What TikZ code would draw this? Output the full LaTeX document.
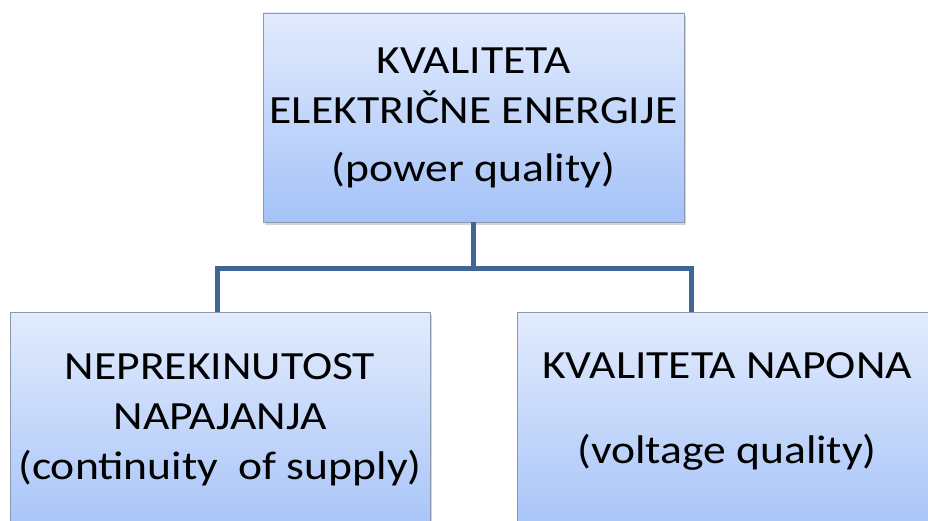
\documentclass[tikz,border=0pt]{standalone}
\usepackage{fontspec}
\setmainfont{Carlito}[FakeStretch=1.14]
\usetikzlibrary{shadows,positioning}

\definecolor{boxtop}{RGB}{226,235,253}
\definecolor{boxbot}{RGB}{164,194,248}
\definecolor{boxline}{RGB}{140,152,172}
\definecolor{linkblue}{RGB}{64,102,150}

\tikzset{
  qbox/.style={draw=boxline, line width=0.8pt, top color=boxtop, bottom color=boxbot,
    align=center, inner sep=0pt, font=\fontsize{40}{50}\selectfont,
    drop shadow={opacity=0.35, shadow xshift=1.5pt, shadow yshift=-3pt}},
  link/.style={draw=linkblue, line width=5pt}
}

\begin{document}
\begin{tikzpicture}[x=1pt, y=-1pt]
  \useasboundingbox (0,0) rectangle (928,521);
  \clip (0,0) rectangle (928,521);
  % top box
  \node[qbox, minimum width=421pt, minimum height=209pt] (quality) at (473.5,117.5)
    {KVALITETA\\ELEKTRIČNE ENERGIJE\\[8pt] (power quality)};
  % lower boxes
  \node[qbox, minimum width=420pt, minimum height=230pt, anchor=north] (supply) at (220,312)
    {NEPREKINUTOST\\NAPAJANJA\\(continuity \ of supply)\rule[-22pt]{0pt}{22pt}};
  \node[qbox, minimum width=420pt, minimum height=230pt, anchor=north] (voltage) at (727,312)
    {KVALITETA NAPONA\\[35pt](voltage quality)\rule[-38pt]{0pt}{38pt}};
  % connectors
  \draw[link] (quality.south) -- ++(0,46) coordinate (bus);
  \draw[link] (bus) -| ([xshift=-3pt]supply.north);
  \draw[link] (bus) -| ([xshift=-36pt]voltage.north);
\end{tikzpicture}
\end{document}
